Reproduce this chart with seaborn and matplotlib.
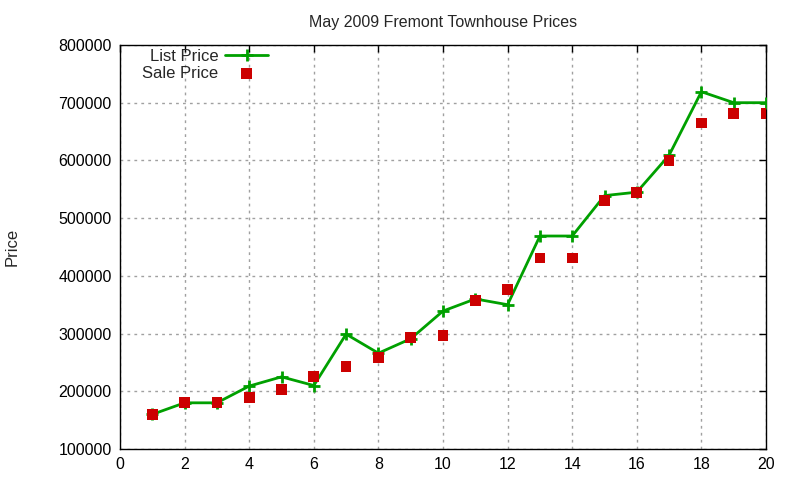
import matplotlib
matplotlib.use("Agg")
import matplotlib.pyplot as plt
import seaborn as sns
import pandas as pd

homes = list(range(1, 21))
list_price = [160000, 180000, 180000, 209000, 225000, 210000, 299000, 266000, 291000, 339000,
              360000, 350000, 469000, 469000, 539000, 545000, 609000, 719000, 700000, 700000]
sale_price = [160000, 180000, 180000, 189000, 203000, 225000, 243000, 259000, 293000, 296000,
              357000, 376000, 431000, 431000, 530000, 545000, 600000, 665000, 681000, 681000]
x_ticks = [0, 2, 4, 6, 8, 10, 12, 14, 16, 18, 20]
y_ticks = [100000, 200000, 300000, 400000, 500000, 600000, 700000, 800000]

df = pd.DataFrame({"n": homes, "list": list_price, "sale": sale_price})

sns.set_style("white")
plt.rcParams['font.family'] = ['Liberation Sans', 'DejaVu Sans']

fig = plt.figure(figsize=(8, 4.8), dpi=100)
ax = fig.add_axes([0.15, 0.0646, 0.8075, 0.8417])

sns.lineplot(data=df, x="n", y="list", ax=ax, color="#00a000", linewidth=2,
             marker="+", markersize=9, markeredgewidth=2, markeredgecolor="#00a000",
             label="List Price", zorder=3)
sns.scatterplot(data=df, x="n", y="sale", ax=ax, color="#cc0000", marker="s", s=60,
                edgecolor="none", label="Sale Price", zorder=4)

ax.set_xlim(0, 20)
ax.set_ylim(100000, 800000)
ax.set_xticks(x_ticks)
ax.set_yticks(y_ticks)
ax.set_xticklabels([str(t) for t in x_ticks])
ax.set_yticklabels([str(t) for t in y_ticks])
ax.tick_params(direction="in", top=True, right=True, length=5, width=1, labelsize=11.5,
               colors="black", pad=6)
ax.grid(True, color="#a0a0a0", linestyle=(0, (2, 3)), linewidth=1)
for s in ax.spines.values():
    s.set_color("black")
    s.set_linewidth(1)

ax.set_xlabel("")
ax.set_ylabel("Price", fontsize=12, labelpad=28)
ax.set_title("May 2009 Fremont Townhouse Prices", fontsize=11.5, pad=13)

leg = ax.legend(loc="upper left", bbox_to_anchor=(0.011, 1.027), frameon=False, markerfirst=False,
                fontsize=12, handlelength=2.6, labelspacing=0.1, handletextpad=0.4)
for t in leg.get_texts():
    t.set_ha("right")

fig.savefig("out.png", dpi=100)
